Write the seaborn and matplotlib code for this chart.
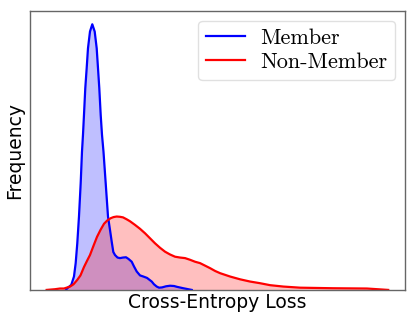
import pandas as pd
import matplotlib
matplotlib.use("Agg")
import matplotlib.pyplot as plt
import seaborn as sns

# density curves (x = loss, y = density)
member_loss = [0.72, 0.746, 0.826, 0.88, 0.914, 0.946, 0.98, 1.014, 1.04, 1.06,
               1.08, 1.106, 1.134, 1.16, 1.2, 1.246, 1.294, 1.334, 1.36, 1.386,
               1.414, 1.44, 1.47, 1.514, 1.56, 1.6, 1.634, 1.666, 1.7, 1.75,
               1.8, 1.86, 1.92, 1.97, 2.034, 2.08, 2.134, 2.2, 2.266, 2.34,
               2.434, 2.48, 2.534, 2.58, 2.64, 2.72, 2.8, 2.88, 2.94, 3.066, 3.234]
member_density = [0.0, 0.006, 0.018, 0.048, 0.096, 0.167, 0.263, 0.382, 0.495, 0.556,
                  0.627, 0.723, 0.795, 0.866, 0.926, 0.952, 0.926, 0.866, 0.795, 0.723,
                  0.627, 0.556, 0.495, 0.382, 0.263, 0.215, 0.173, 0.136, 0.125, 0.116,
                  0.114, 0.116, 0.117, 0.111, 0.101, 0.084, 0.066, 0.052, 0.048, 0.043,
                  0.030, 0.020, 0.012, 0.008, 0.009, 0.013, 0.015, 0.014, 0.011, 0.006, 0.0]

nonmember_loss = [0.334, 0.5, 0.6, 0.68, 0.8, 0.87, 0.946, 1.01, 1.08, 1.14,
                  1.2, 1.27, 1.34, 1.41, 1.48, 1.546, 1.614, 1.67, 1.734, 1.8,
                  1.86, 1.934, 2.0, 2.1, 2.2, 2.3, 2.4, 2.5, 2.6, 2.7,
                  2.8, 2.9, 3.0, 3.1, 3.2, 3.3, 3.4, 3.5, 3.6, 3.7,
                  3.8, 4.0, 4.2, 4.4, 4.6, 4.8, 5.066, 5.4, 6.06, 6.734, 7.16]
nonmember_density = [0.0, 0.0025, 0.005, 0.005, 0.012, 0.020, 0.036, 0.052, 0.082, 0.104,
                     0.125, 0.158, 0.190, 0.215, 0.237, 0.249, 0.257, 0.261, 0.263, 0.262,
                     0.260, 0.253, 0.246, 0.233, 0.219, 0.203, 0.185, 0.167, 0.151, 0.137,
                     0.127, 0.119, 0.116, 0.114, 0.108, 0.101, 0.096, 0.087, 0.078, 0.068,
                     0.060, 0.048, 0.038, 0.030, 0.024, 0.017, 0.012, 0.008, 0.006, 0.005, 0.0]

fig = plt.figure(figsize=(4.16, 3.2), dpi=100)
ax = fig.add_axes([0.072, 0.094, 0.902, 0.872])

df_m = pd.DataFrame({"loss": member_loss, "density": member_density})
df_n = pd.DataFrame({"loss": nonmember_loss, "density": nonmember_density})

sns.lineplot(data=df_m, x="loss", y="density", color="blue", lw=1.6, label="Member", ax=ax)
sns.lineplot(data=df_n, x="loss", y="density", color="red", lw=1.6, label="Non-Member", ax=ax)
ax.fill_between(df_m["loss"], df_m["density"], color="blue", alpha=0.25, lw=0)
ax.fill_between(df_n["loss"], df_n["density"], color="red", alpha=0.25, lw=0)

ax.set_xlim(0, 7.5)
ax.set_ylim(0, 1.0)
ax.set_xticks([])
ax.set_yticks([])
ax.set_xlabel("Cross-Entropy Loss", fontsize=13.5, labelpad=2, color="black")
ax.set_ylabel("Frequency", fontsize=13.5, labelpad=4, color="black")
for s in ax.spines.values():
    s.set_color("0.4")
    s.set_linewidth(1.0)

leg = ax.legend(loc="upper right", prop={"family": "cmr10", "size": 16},
                frameon=True, handlelength=1.75, borderpad=0.35, handletextpad=0.7,
                labelspacing=0.2, borderaxespad=0.45)
leg.get_frame().set_edgecolor("0.85")

fig.savefig("out.png", dpi=100)
